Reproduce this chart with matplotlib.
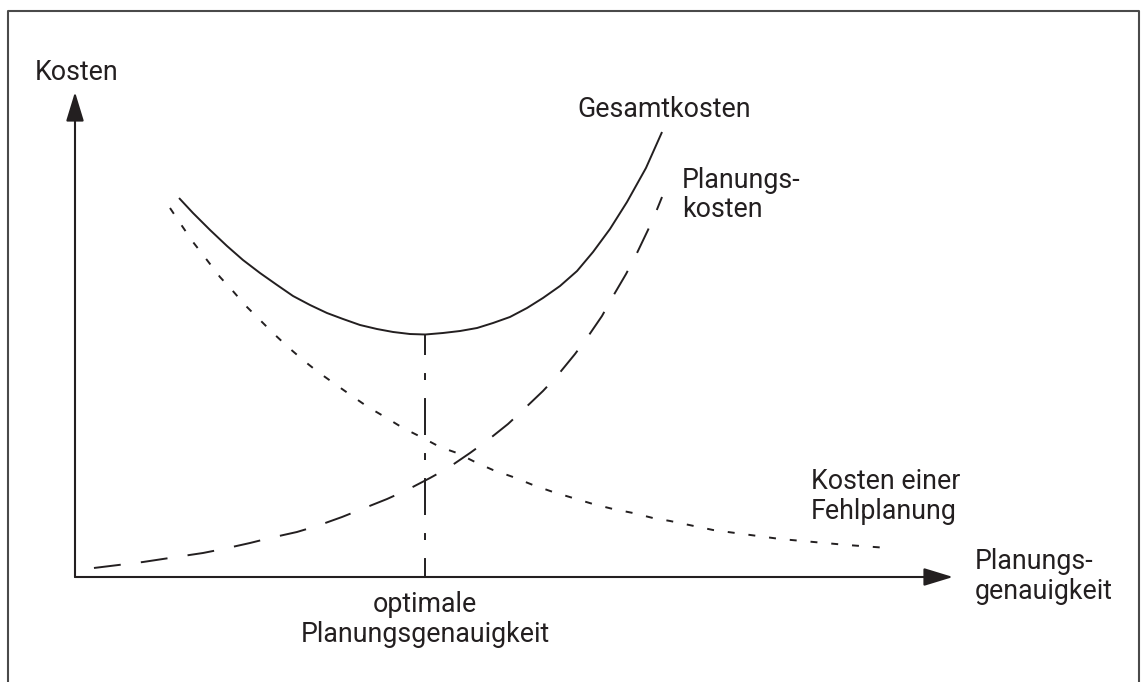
import numpy as np
import matplotlib
matplotlib.use("Agg")
import matplotlib.pyplot as plt
from matplotlib.lines import Line2D

# values (x: Planungsgenauigkeit, y: Kosten, both 0..100 along the axes)
gesamt_x = [11.85, 13.44, 15.38, 17.31, 19.13, 21.07, 23.01, 24.83, 26.77, 28.70, 30.52, 32.46,
            34.40, 36.22, 38.15, 39.9, 41.91, 43.85, 45.79, 47.61, 49.54, 51.48, 53.30, 55.24,
            57.18, 59.00, 60.93, 62.87, 65.03, 66.86]
gesamt_y = [78.14, 75.05, 71.55, 68.25, 65.36, 62.68, 60.21, 57.94, 56.08, 54.43, 53.20, 51.96,
            51.13, 50.52, 50.10, 50.0, 50.31, 50.72, 51.34, 52.37, 53.61, 55.46, 57.53, 60.00,
            63.09, 67.01, 71.75, 77.32, 84.33, 91.75]

planung_x = [2.16, 7.74, 11.50, 14.58, 16.86, 19.93, 22.21, 25.28, 27.56, 30.41, 32.69, 35.54,
             37.81, 40.43, 42.48, 44.99, 47.04, 49.32, 51.03, 53.30, 54.90, 56.95, 58.31, 60.02,
             61.16, 62.76, 63.90, 65.26, 66.17, 66.86]
planung_y = [1.86, 3.09, 4.12, 4.95, 5.77, 7.01, 8.04, 9.28, 10.52, 12.37, 14.02, 16.08,
             17.94, 20.41, 22.47, 25.57, 28.25, 31.55, 34.43, 38.35, 41.44, 45.98, 49.28, 53.81,
             57.53, 62.47, 66.39, 71.55, 75.26, 78.35]

fehl_x = [10.82, 11.96, 13.44, 15.03, 16.51, 17.88, 19.36, 21.07, 22.55, 24.26, 25.97, 27.68,
          29.61, 31.55, 33.37, 35.31, 37.36, 39.64, 41.57, 43.51, 45.79, 47.61, 49.89, 52.16,
          54.44, 56.72, 59.00, 61.28, 63.55, 65.83, 67.77, 72.67, 80.30, 87.93, 92.60]
fehl_y = [76.08, 72.99, 69.07, 65.36, 61.86, 59.18, 56.08, 52.99, 50.31, 47.42, 44.74, 42.27,
          39.79, 37.32, 35.05, 32.99, 30.72, 28.66, 26.80, 25.57, 23.51, 22.06, 20.62, 18.97,
          17.53, 16.29, 15.05, 14.02, 13.20, 12.16, 11.55, 9.69, 7.84, 6.60, 5.98]

x_opt = 39.9
y_opt = 50.0

ink = "#231f20"
plt.rcParams['font.family'] = ['Roboto', 'DejaVu Sans']
plt.rcParams['lines.scale_dashes'] = False

fig = plt.figure(figsize=(11.42, 6.82), dpi=100)
ax = fig.add_axes([0, 0, 1, 1])
ax.set_xlim(-75 / 8.78, (1142 - 75) / 8.78)
ax.set_ylim(-105 / 4.85, 577 / 4.85)
ax.axis('off')

# frame around the picture (open at the bottom)
fw, fh = 1142, 682
frame = Line2D([8 / fw, 8 / fw, 1139 / fw, 1139 / fw], [-0.1, 1 - 11 / fh, 1 - 11 / fh, -0.1],
               transform=fig.transFigure, color="#4a4a4a", lw=1.5)
fig.add_artist(frame)

# axes with arrows
arrow = dict(arrowstyle='-|>,head_length=1.8,head_width=0.55', mutation_scale=10,
             lw=1.5, color=ink, shrinkA=0, shrinkB=0)
ax.annotate('', xy=(100, 0), xytext=(0, 0), arrowprops=arrow)
ax.annotate('', xy=(0, 100), xytext=(0, 0), arrowprops=arrow)

# curves
ax.plot(gesamt_x, gesamt_y, color=ink, lw=1.4, solid_capstyle='butt', solid_joinstyle='round')
ax.plot(planung_x, planung_y, color=ink, lw=1.4, dashes=(19.4, 14.6), dash_capstyle='butt')
ax.plot(fehl_x, fehl_y, color=ink, lw=1.4, dashes=(5, 10), dash_capstyle='butt')
ax.plot([x_opt, x_opt], [y_opt, 0], color=ink, lw=1.4,
        linestyle=(12.2, (26.6, 13, 5, 13)), dash_capstyle='butt')

# labels (va='baseline' refers to the last line of a multi-line text)
fs = 19.3
ls = 1.12
ax.text(-4.56, 102.5, "Kosten", fontsize=fs, color=ink, va='baseline')
ax.text(57.2, 94.85, "Gesamtkosten", fontsize=fs, color=ink, va='baseline')
ax.text(69.1, 74.2, "Planungs-\nkosten", fontsize=fs, color=ink, va='baseline', linespacing=ls)
ax.text(83.8, 11.96, "Kosten einer\nFehlplanung", fontsize=fs, color=ink, va='baseline', linespacing=ls)
ax.text(102.5, -4.54, "Planungs-\ngenauigkeit", fontsize=fs, color=ink, va='baseline', linespacing=ls)
ax.text(x_opt, -13.4, "optimale\nPlanungsgenauigkeit", fontsize=fs, color=ink,
        va='baseline', ha='center', multialignment='center', linespacing=ls)

fig.savefig("out.png", dpi=100)
